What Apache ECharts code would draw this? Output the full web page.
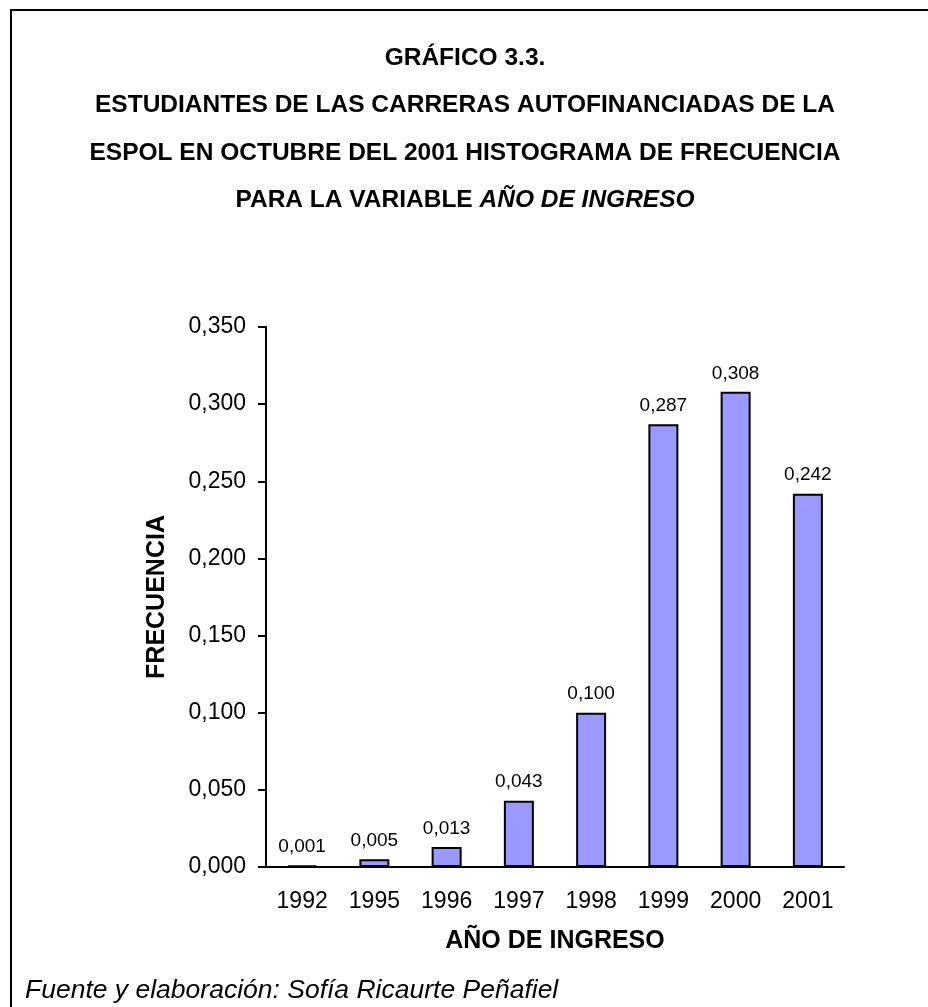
<!DOCTYPE html>
<html>
<head>
<meta charset="utf-8">
<title>Gráfico 3.3</title>
<script src="https://cdn.jsdelivr.net/npm/echarts@6/dist/echarts.min.js"></script>
<style>
  html, body { margin: 0; padding: 0; background: #fff; }
  #chart { width: 928px; height: 1007px; }
</style>
</head>
<body>
<div id="chart"></div>
<script>
// datos del gráfico
var years = ["1992", "1995", "1996", "1997", "1998", "1999", "2000", "2001"];
var freq = [0.001, 0.005, 0.013, 0.043, 0.100, 0.287, 0.308, 0.242];
var titleLines = [
  "GRÁFICO 3.3.",
  "ESTUDIANTES DE LAS CARRERAS AUTOFINANCIADAS DE LA",
  "ESPOL EN OCTUBRE DEL 2001 HISTOGRAMA DE FRECUENCIA",
  "PARA LA VARIABLE {i|AÑO DE INGRESO}"
];
var footer = "Fuente y elaboración: Sofía Ricaurte Peñafiel";

var FONT = "'Liberation Sans', Arial, sans-serif";
// coma decimal
function fmt(v) {
  return Number(v).toFixed(3).replace(".", ",");
}

// lineas del titulo como textos centrados
var titleGraphics = titleLines.map(function (line, i) {
  return {
    type: "text",
    x: 465,
    y: 58 + i * 47.5,
    silent: true,
    style: {
      text: line,
      align: "center",
      verticalAlign: "middle",
      font: "bold 24.5px " + FONT,
      fill: "#000",
      rich: {
        i: { font: "italic bold 24.5px " + FONT, fill: "#000" }
      }
    }
  };
});

var chart = echarts.init(document.getElementById("chart"));
chart.setOption({
  animation: false,
  backgroundColor: "#fff",
  grid: {
    left: 266,
    right: 84,
    top: 327,
    bottom: 140
  },
  xAxis: {
    type: "category",
    data: years,
    name: "AÑO DE INGRESO",
    nameLocation: "middle",
    nameGap: 62,
    nameTextStyle: {
      fontFamily: FONT,
      fontSize: 25,
      fontWeight: "bold",
      color: "#000"
    },
    axisLine: { lineStyle: { color: "#000", width: 2 } },
    axisTick: { length: 8, interval: 0, lineStyle: { color: "#000", width: 2 } },
    axisLabel: {
      fontFamily: FONT,
      fontSize: 23,
      color: "#000",
      margin: 23,
      interval: 0
    }
  },
  yAxis: {
    type: "value",
    min: 0,
    max: 0.35,
    interval: 0.05,
    name: "FRECUENCIA",
    nameLocation: "middle",
    nameRotate: 90,
    nameGap: 96,
    nameTextStyle: {
      fontFamily: FONT,
      fontSize: 25,
      fontWeight: "bold",
      color: "#000"
    },
    axisLine: { show: true, lineStyle: { color: "#000", width: 2 } },
    axisTick: { show: true, length: 8, lineStyle: { color: "#000", width: 2 } },
    splitLine: { show: false },
    axisLabel: {
      fontFamily: FONT,
      fontSize: 23,
      color: "#000",
      margin: 20,
      formatter: fmt
    }
  },
  series: [
    {
      type: "bar",
      data: freq,
      barWidth: 30,
      itemStyle: {
        color: "#9999ff",
        borderColor: "#000",
        borderWidth: 2
      },
      label: {
        show: true,
        position: "top",
        distance: 9,
        fontFamily: FONT,
        fontSize: 19,
        color: "#000",
        formatter: function (p) { return fmt(p.value); }
      }
    }
  ],
  graphic: titleGraphics.concat([
    {
      // marco
      type: "rect",
      shape: { x: 11, y: 10, width: 940, height: 1020 },
      style: { fill: "none", stroke: "#000", lineWidth: 2 },
      silent: true
    },
    {
      type: "text",
      left: 25,
      top: 977,
      style: {
        text: footer,
        font: "italic 26.5px " + FONT,
        fill: "#000"
      }
    }
  ])
});
</script>
</body>
</html>
